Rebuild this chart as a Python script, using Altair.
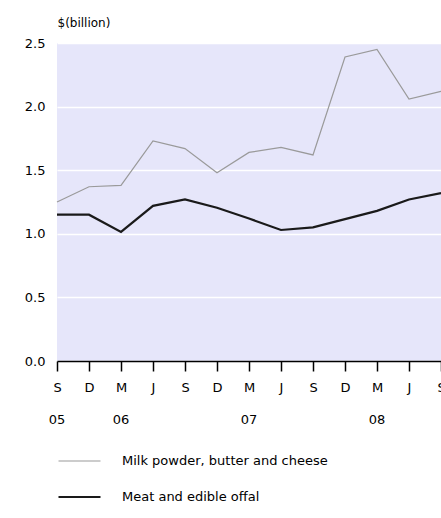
import altair as alt
import pandas as pd

months = ["S", "D", "M", "J", "S", "D", "M", "J", "S", "D", "M", "J", "S"]
year_pos = [0, 2, 6, 10]
year_labels = ["05", "06", "07", "08"]
milk = [1.25, 1.37, 1.38, 1.73, 1.67, 1.48, 1.64, 1.68, 1.62, 2.39, 2.45, 2.06, 2.12]
meat = [1.15, 1.15, 1.015, 1.22, 1.27, 1.205, 1.12, 1.03, 1.05, 1.115, 1.18, 1.27, 1.32]
series_names = ["Milk powder, butter and cheese", "Meat and edible offal"]
series_colors = ["#9a9a9a", "#1a1a1a"]

rows = []
for i in range(len(months)):
    rows.append({"idx": i, "value": milk[i], "series": series_names[0]})
    rows.append({"idx": i, "value": meat[i], "series": series_names[1]})
df = pd.DataFrame(rows)
years_df = pd.DataFrame({"idx": year_pos, "label": year_labels})

FONT = "DejaVu Sans"
month_expr = "[" + ",".join("'%s'" % m for m in months) + "][datum.value]"

x_scale = alt.Scale(domain=[0, 12], nice=False, zero=False)
x_axis = alt.Axis(values=list(range(13)), tickCount=13, labelExpr=month_expr,
                  grid=False,
                  domainColor="black", domainWidth=1.5, tickColor="black",
                  tickWidth=1.5, tickSize=10, labelPadding=10,
                  labelOverlap=False, labelFlush=False, labelBound=False,
                  labelFont=FONT, labelFontSize=13, labelColor="black",
                  title=None)

lines = alt.Chart(df).mark_line(clip=False).encode(
    x=alt.X("idx:Q", scale=x_scale, axis=x_axis),
    y=alt.Y("value:Q", scale=alt.Scale(domain=[0, 2.5], nice=False),
            axis=alt.Axis(values=[0, 0.5, 1.0, 1.5, 2.0, 2.5], format=".1f",
                          domain=False, ticks=False, labelPadding=12,
                          gridColor="white", gridWidth=1.5, gridOpacity=1,
                          labelFont=FONT, labelFontSize=13, labelColor="black",
                          title="$(billion)", titleAngle=0, titleX=0, titleY=-17,
                          titleAlign="left", titleBaseline="alphabetic",
                          titleFont=FONT, titleFontSize=12, titleFontWeight="normal",
                          titleColor="black")),
    color=alt.Color("series:N",
                    scale=alt.Scale(domain=series_names, range=series_colors),
                    legend=alt.Legend(orient="none", legendX=0, legendY=410,
                                      title=None, symbolType="stroke", symbolSize=1764,
                                      symbolStrokeWidth=1.5, clipHeight=16,
                                      rowPadding=20, labelOffset=20, labelLimit=400,
                                      labelFont=FONT, labelFontSize=13,
                                      labelColor="black", padding=0)),
    strokeWidth=alt.StrokeWidth("series:N",
                                scale=alt.Scale(domain=series_names, range=[1.2, 2.2]),
                                legend=None),
)

years = alt.Chart(years_df).mark_text(font=FONT, fontSize=13, color="black",
                                      baseline="middle", align="center").encode(
    x=alt.X("idx:Q", scale=x_scale, axis=x_axis),
    y=alt.value(377),
    text="label:N",
)

chart = alt.layer(lines, years).properties(
    width=384, height=318,
    autosize=alt.AutoSizeParams(type="none"),
    padding={"left": 57, "top": 43, "right": 0, "bottom": 157},
    background="white",
).configure_view(fill="#E6E6FA", stroke=None)

chart.save("out.html", embed_options={"renderer": "svg", "actions": False})
